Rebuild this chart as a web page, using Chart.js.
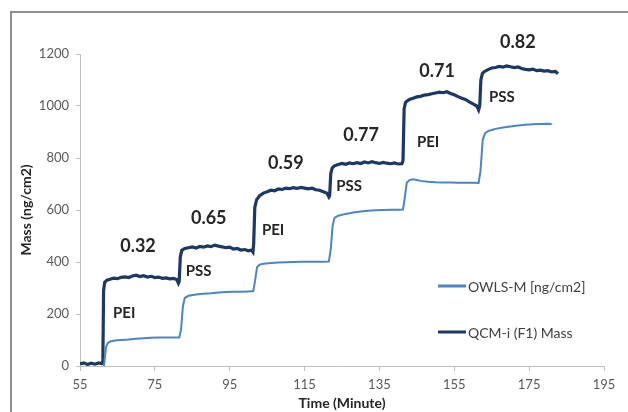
<!DOCTYPE html>
<html>
<head>
<meta charset="utf-8">
<script src="https://cdn.jsdelivr.net/npm/chart.js@4/dist/chart.umd.min.js"></script>
<style>
  html, body { margin: 0; padding: 0; background: #ffffff; }
  #wrap { width: 628px; height: 412px; position: relative; }
</style>
</head>
<body>
<div id="wrap"><canvas id="massChart" width="628" height="412"></canvas></div>
<script>
// QCM-i (F1) mass
const qcmTime = [55, 56, 57, 58, 59, 60, 60.8, 61.1, 61.3, 61.6, 62.2, 63, 64, 65, 66, 67, 68, 69, 70, 71, 72, 73, 74, 75, 76, 77, 78, 79, 80, 80.8, 81.3, 81.5, 81.8, 82.2, 83, 84, 85, 86, 87, 88, 89, 90, 91, 92, 93, 94, 95, 96, 97, 98, 99, 100, 100.8, 101.2, 101.4, 101.7, 102.2, 103, 104, 105, 106, 107, 108, 109, 110, 111, 112, 113, 114, 115, 116, 117, 118, 119, 120, 121, 121.5, 121.7, 122, 122.4, 123, 124, 125, 126, 127, 128, 129, 130, 131, 132, 133, 134, 135, 136, 137, 138, 139, 140, 141, 141.3, 141.6, 142, 143, 144, 145, 146, 147, 148, 149, 150, 151, 152, 153, 154, 155, 156, 157, 158, 159, 160, 161, 161.5, 161.8, 162.1, 162.5, 163, 164, 165, 166, 167, 168, 169, 170, 171, 172, 173, 174, 175, 176, 177, 178, 179, 180, 181, 182, 182.7];
const qcmMass = [8, 12, 6, 11, 7, 12, 9, 10, 290, 322, 330, 334, 338, 336, 341, 343, 340, 346, 349, 344, 347, 342, 345, 340, 342, 337, 339, 335, 337, 333, 318, 325, 420, 445, 452, 455, 458, 454, 460, 457, 462, 459, 465, 461, 458, 455, 457, 450, 452, 446, 448, 443, 446, 438, 470, 610, 640, 655, 665, 670, 676, 674, 681, 679, 684, 682, 686, 683, 687, 684, 681, 684, 678, 676, 670, 664, 650, 655, 740, 762, 770, 775, 779, 776, 781, 778, 782, 779, 785, 781, 786, 782, 779, 783, 780, 778, 781, 777, 778, 790, 990, 1015, 1025, 1030, 1035, 1037, 1042, 1044, 1047, 1050, 1053, 1051, 1055, 1048, 1043, 1036, 1030, 1025, 1016, 1008, 1000, 985, 1000, 1100, 1125, 1132, 1140, 1146, 1148, 1152, 1150, 1154, 1151, 1148, 1150, 1144, 1141, 1139, 1142, 1136, 1138, 1134, 1136, 1131, 1133, 1124];

// OWLS-M mass
const owlsTime = [61.4, 61.7, 62, 62.4, 63, 64, 65, 66, 68, 70, 72, 74, 76, 78, 80, 81.5, 82, 82.5, 83, 84, 86, 88, 90, 92, 94, 96, 98, 100, 101.3, 101.8, 102.3, 103, 104, 106, 108, 110, 112, 114, 116, 118, 120, 121.5, 122, 122.5, 123, 124, 126, 128, 130, 132, 134, 136, 138, 140, 141.3, 141.8, 142.3, 143, 144, 145, 146, 148, 150, 152, 154, 156, 158, 160, 161.5, 162, 162.6, 163.2, 164, 165, 166, 168, 170, 172, 174, 176, 178, 180, 181];
const owlsMass = [0, 40, 75, 88, 94, 97, 99, 100, 102, 105, 107, 109, 110, 110, 110, 110, 140, 230, 262, 270, 275, 278, 280, 283, 285, 286, 286, 287, 288, 330, 380, 390, 393, 396, 398, 399, 400, 401, 401, 401, 401, 402, 450, 540, 570, 578, 585, 590, 594, 597, 599, 600, 601, 601, 602, 650, 705, 715, 718, 715, 712, 709, 707, 706, 706, 705, 705, 705, 704, 750, 870, 895, 903, 908, 912, 917, 921, 925, 928, 930, 931, 932, 931];

const xTicks = [55, 75, 95, 115, 135, 155, 175, 195];
const yTicks = [0, 200, 400, 600, 800, 1000, 1200];

const ratioLabels = ["0.32", "0.65", "0.59", "0.77", "0.71", "0.82"];
const ratioTime = [70.5, 89.4, 110, 130.1, 150.4, 172];
const ratioMass = [461, 570, 781, 889, 1132, 1247];

const layerLabels = ["PEI", "PSS", "PEI", "PSS", "PEI", "PSS"];
const layerTime = [66.8, 86.7, 106.6, 126.9, 148, 167.7];
const layerMass = [204, 365, 524, 693, 862, 1034];

const seriesNames = ["OWLS-M [ng/cm2]", "QCM-i (F1) Mass"];
const seriesColors = ["#4a85c6", "#1d3864"];

function toPoints(xs, ys) {
    return xs.map((x, i) => ({ x: x, y: ys[i] }));
}

const framePlugin = {
    id: "frame",
    beforeDraw(chart) {
        const c = chart.ctx;
        c.save();
        c.fillStyle = "#ffffff";
        c.fillRect(0, 0, chart.width, chart.height);
        c.strokeStyle = "#8f8f8f";
        c.lineWidth = 2;
        c.beginPath();
        c.moveTo(11, chart.height + 5);
        c.lineTo(11, 12);
        c.lineTo(chart.width + 5, 12);
        c.stroke();
        c.restore();
    }
};

const notesPlugin = {
    id: "notes",
    afterDatasetsDraw(chart) {
        const c = chart.ctx;
        const xs = chart.scales.x;
        const ys = chart.scales.y;
        c.save();
        c.fillStyle = "#262626";
        c.textAlign = "center";
        c.textBaseline = "middle";
        c.font = "bold 18px Lato";
        ratioLabels.forEach((t, i) => {
            c.fillText(t, xs.getPixelForValue(ratioTime[i]), ys.getPixelForValue(ratioMass[i]));
        });
        c.font = "bold 15px Lato";
        layerLabels.forEach((t, i) => {
            c.fillText(t, xs.getPixelForValue(layerTime[i]), ys.getPixelForValue(layerMass[i]));
        });

        // legend inside the plot, right side
        const lx = 438;
        const rows = [286, 332];
        c.font = "14px Lato";
        c.textAlign = "left";
        c.fillStyle = "#404040";
        chart.data.datasets.forEach((ds, i) => {
            c.strokeStyle = ds.borderColor;
            c.lineWidth = 3;
            c.beginPath();
            c.moveTo(lx, rows[i]);
            c.lineTo(lx + 28, rows[i]);
            c.stroke();
            c.fillText(ds.label, lx + 30, rows[i] + 1);
        });
        c.restore();
    }
};

new Chart(document.getElementById("massChart"), {
    type: "line",
    data: {
        datasets: [
            {
                label: seriesNames[0],
                data: toPoints(owlsTime, owlsMass),
                borderColor: seriesColors[0],
                borderWidth: 2,
                pointRadius: 0,
                tension: 0
            },
            {
                label: seriesNames[1],
                data: toPoints(qcmTime, qcmMass),
                borderColor: seriesColors[1],
                borderWidth: 3.2,
                pointRadius: 0,
                tension: 0
            }
        ]
    },
    options: {
        responsive: false,
        animation: false,
        layout: { padding: { left: 14, top: 54, right: 24, bottom: 0 } },
        plugins: {
            legend: { display: false },
            tooltip: { enabled: false }
        },
        scales: {
            x: {
                type: "linear",
                min: 55,
                max: 195,
                afterBuildTicks: (scale) => { scale.ticks = xTicks.map(v => ({ value: v })); },
                afterFit: (scale) => { scale.height = 46; },
                border: { color: "#bfbfbf", width: 1 },
                grid: { drawOnChartArea: false, color: "#bfbfbf", tickLength: 5 },
                ticks: {
                    color: "#595959",
                    font: { family: "Lato", size: 13 },
                    padding: 6,
                    callback: (v) => String(v)
                },
                title: {
                    display: true,
                    text: "Time (Minute)",
                    color: "#262626",
                    font: { family: "Lato", size: 14, weight: "bold" },
                    padding: { top: 0, bottom: 0 }
                }
            },
            y: {
                min: 0,
                max: 1200,
                afterBuildTicks: (scale) => { scale.ticks = yTicks.map(v => ({ value: v })); },
                afterFit: (scale) => { scale.width = 66; },
                border: { color: "#bfbfbf", width: 1 },
                grid: { drawOnChartArea: false, color: "#bfbfbf", tickLength: 4 },
                ticks: {
                    color: "#595959",
                    font: { family: "Lato", size: 13 },
                    padding: 7,
                    callback: (v) => String(v)
                },
                title: {
                    display: true,
                    text: "Mass (ng/cm2)",
                    color: "#262626",
                    font: { family: "Lato", size: 14, weight: "bold" },
                    padding: { top: 4, bottom: 0 }
                }
            }
        }
    },
    plugins: [framePlugin, notesPlugin]
});
</script>
</body>
</html>
